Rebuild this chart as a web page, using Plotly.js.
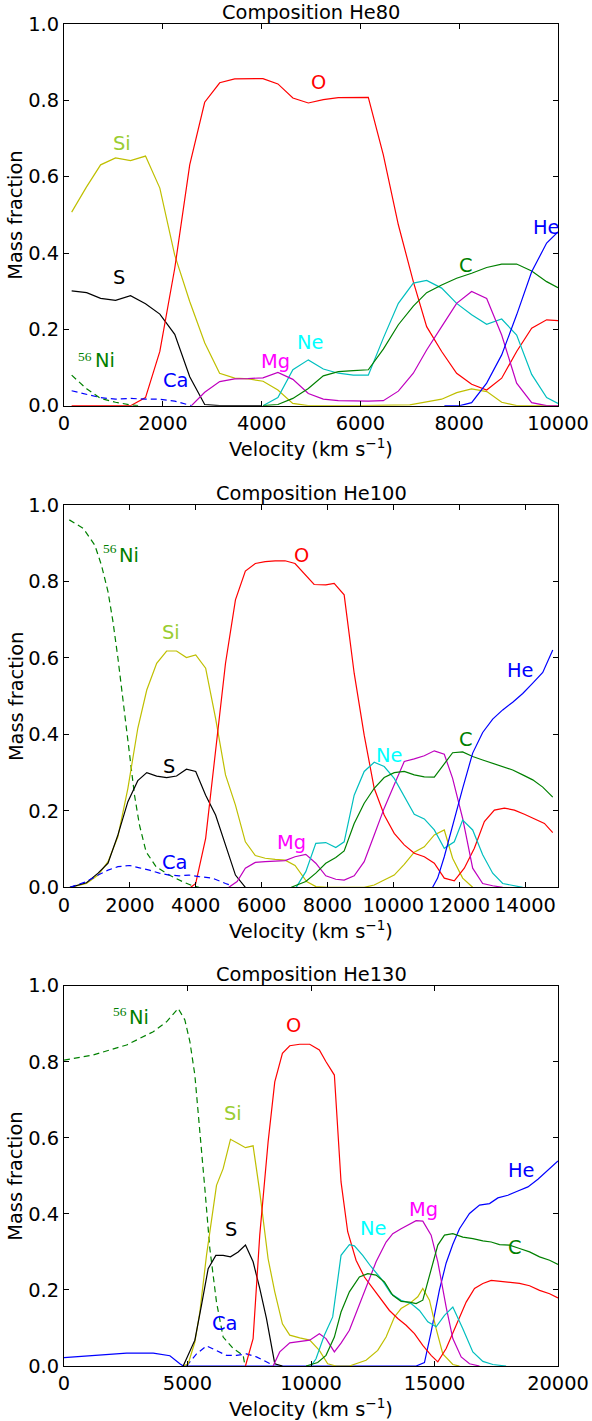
<!DOCTYPE html>
<html>
<head>
<meta charset="utf-8">
<script src="https://cdn.plot.ly/plotly-3.0.1.min.js"></script>
<style>
  html, body { margin: 0; padding: 0; background: #fff; }
  #chart { width: 592px; height: 1421px; }
</style>
</head>
<body>
<div id="chart"></div>
<script>
// ---------- Composition He80 ----------
const he80_Si_v = [155,450,741,1044,1347,1650,1940,2240,2545,2850,3150,3455,3740,4030,4330,4630,4940,6000,7000,7340,7645,7950,8250,8560,8860,9163,10000];
const he80_Si   = [0.507,0.572,0.631,0.649,0.642,0.654,0.570,0.395,0.273,0.164,0.085,0.072,0.070,0.064,0.041,0.006,0.0,0.0,0.002,0.009,0.017,0.034,0.044,0.037,0.009,0.0,0.0];
const he80_S_v  = [155,458,741,1044,1347,1650,1940,2242,2545,2848,3152,4000];
const he80_S    = [0.301,0.296,0.281,0.276,0.288,0.267,0.240,0.187,0.076,0.003,0,0];
const he80_O_v  = [155,1347,1650,1940,2242,2545,2848,3152,3455,3724,4027,4330,4633,4946,5249,5553,5857,6160,6464,6768,7071,7341,7645,7948,8252,8556,8860,9163,9467,9770,10000];
const he80_O    = [0,0,0.021,0.142,0.360,0.631,0.795,0.846,0.856,0.857,0.857,0.843,0.806,0.793,0.802,0.807,0.807,0.808,0.657,0.474,0.325,0.207,0.142,0.085,0.056,0.041,0.072,0.142,0.203,0.225,0.223];
const he80_Ne_v = [4027,4330,4633,4946,5249,5553,5857,6160,6464,6768,7071,7341,7645,7948,8252,8556,8860,9163,9467,9770,10000];
const he80_Ne   = [0,0.021,0.094,0.120,0.096,0.085,0.080,0.080,0.177,0.268,0.321,0.328,0.308,0.268,0.238,0.213,0.227,0.185,0.082,0.021,0.006];
const he80_Mg_v = [2580,2848,3152,3455,3724,4027,4330,4633,4946,5249,5553,5857,6160,6464,6768,7071,7341,7645,7948,8252,8556,8860,9163,9467,9770,10000];
const he80_Mg   = [0,0.035,0.063,0.070,0.071,0.073,0.087,0.069,0.032,0.017,0.013,0.012,0.012,0.013,0.038,0.085,0.146,0.207,0.268,0.299,0.281,0.185,0.059,0.008,0,0];
const he80_C_v  = [4027,4330,4633,4946,5249,5553,5857,6160,6464,6768,7071,7341,7645,7948,8252,8556,8860,9163,9467,9770,10000];
const he80_C    = [0,0.003,0.019,0.045,0.078,0.089,0.092,0.094,0.148,0.212,0.261,0.296,0.316,0.334,0.347,0.362,0.371,0.371,0.353,0.325,0.309];
const he80_He_v = [7700,8016,8252,8556,8860,9163,9467,9770,10000];
const he80_He   = [0,0,0.008,0.059,0.133,0.238,0.351,0.426,0.455];
const he80_Ca_v = [155,458,741,1044,1347,1650,1940,2242,2580];
const he80_Ca   = [0.039,0.030,0.021,0.017,0.019,0.017,0.017,0.012,0];
const he80_Ni_v = [155,458,741,1044,1347,1500];
const he80_Ni   = [0.080,0.044,0.019,0.009,0.002,0];

// ---------- Composition He100 ----------
const he100_Ni_v = [161,583,935,1136,1337,1487,1638,1839,2010,2141,2291,2492,2794,3196,3598,3900,4100];
const he100_Ni   = [0.961,0.939,0.895,0.843,0.773,0.695,0.599,0.459,0.329,0.241,0.163,0.093,0.054,0.032,0.015,0.004,0];
const he100_Si_v = [181,683,1035,1337,1638,1940,2241,2513,2814,3116,3417,3718,4000,4301,4603,4904,5206,5507,5809,6110,6412,6713,7015,7367,7650,8000,9115,9419,9723,10027,10331,10635,10940,11244,11547,11800,12105,12409];
const he100_Si   = [0,0.010,0.032,0.067,0.133,0.259,0.416,0.516,0.586,0.618,0.618,0.601,0.608,0.573,0.442,0.294,0.215,0.119,0.083,0.076,0.073,0.071,0.057,0.015,0.002,0,0,0.006,0.019,0.032,0.060,0.092,0.106,0.137,0.150,0.076,0.024,0];
const he100_S_v  = [181,683,1035,1337,1638,1940,2241,2513,2814,3116,3417,3718,4000,4301,4603,4904,5206,5507];
const he100_S    = [0,0.012,0.037,0.063,0.137,0.224,0.279,0.300,0.291,0.287,0.291,0.309,0.303,0.241,0.189,0.111,0.032,0];
const he100_O_v  = [3849,4000,4301,4603,4904,5206,5507,5809,6110,6412,6713,7015,7367,7595,7949,8203,8507,8811,9115,9419,9723,10027,10331,10635,10940,11244,11547,11851,12155,12460,12764,13068,13372,13676,13980,14284,14588,14841];
const he100_O    = [0,0.010,0.128,0.364,0.586,0.752,0.827,0.847,0.852,0.854,0.854,0.847,0.813,0.792,0.791,0.795,0.765,0.560,0.398,0.259,0.189,0.141,0.111,0.089,0.080,0.063,0.024,0.017,0.050,0.102,0.172,0.202,0.207,0.202,0.191,0.180,0.167,0.143];
const he100_Ca_v = [181,683,1035,1337,1638,1990,2291,2593,2894,3196,3500,3799,4100,4502,4904,5106];
const he100_Ca   = [0,0.015,0.032,0.045,0.054,0.057,0.051,0.045,0.037,0.032,0.030,0.032,0.028,0.024,0.010,0.004];
const he100_Mg_v = [5005,5256,5507,5809,6110,6412,6713,7015,7342,7646,7949,8253,8507,8811,9115,9419,9723,10027,10331,10635,10940,11244,11547,11800,12105,12409,12713,13017,13321];
const he100_Mg   = [0,0.015,0.050,0.065,0.067,0.069,0.070,0.080,0.086,0.063,0.030,0.021,0.019,0.030,0.067,0.137,0.207,0.268,0.329,0.336,0.344,0.357,0.348,0.285,0.180,0.050,0.010,0.004,0];
const he100_Ne_v = [7050,7342,7646,7949,8253,8507,8811,9115,9419,9723,10027,10331,10635,10940,11244,11547,11851,12105,12409,12713,13017,13321,13625,13929];
const he100_Ne   = [0,0.041,0.115,0.117,0.104,0.119,0.241,0.303,0.327,0.316,0.285,0.237,0.191,0.179,0.150,0.102,0.119,0.176,0.150,0.085,0.037,0.010,0.004,0];
const he100_C_v  = [6900,7342,7646,7949,8253,8507,8811,9115,9419,9723,10027,10331,10635,10940,11244,11547,11800,12105,12409,12713,13017,13321,13625,13929,14233,14537,14841];
const he100_C    = [0,0.015,0.037,0.063,0.078,0.095,0.167,0.220,0.259,0.287,0.300,0.303,0.294,0.289,0.288,0.322,0.352,0.354,0.342,0.333,0.325,0.316,0.307,0.294,0.281,0.262,0.236];
const he100_He_v = [11193,11345,11547,11800,12105,12409,12713,13017,13321,13625,13929,14233,14537,14841];
const he100_He   = [0,0.024,0.080,0.163,0.259,0.351,0.405,0.440,0.464,0.484,0.507,0.534,0.562,0.621];

// ---------- Composition He130 ----------
const he130_Ni_v = [0,1186,2534,3613,4152,4624,4893,5096,5298,5500,5702,5904,6174,6443,6848,7252,7320];
const he130_Ni   = [0.804,0.818,0.844,0.879,0.905,0.940,0.910,0.853,0.765,0.625,0.467,0.309,0.168,0.076,0.046,0.028,0.004];
const he130_Ca_v = [4960,5365,5769,6174,6578,6983,7387,7791,8196,8465];
const he130_Ca   = [0,0.032,0.053,0.041,0.028,0.028,0.032,0.024,0.011,0.002];
const he130_He_v = [0,1186,2534,3613,4287,4691,4826,14256,14593,14864,15200,15472,15742,16012,16417,16823,17228,17566,17971,18376,18782,19187,19525,20000];
const he130_He   = [0.022,0.028,0.034,0.034,0.027,0.006,0,0,0.009,0.090,0.200,0.271,0.320,0.361,0.401,0.423,0.427,0.442,0.449,0.460,0.471,0.491,0.511,0.539];
const he130_Si_v = [4826,5028,5298,5500,5769,6174,6443,6740,7050,7347,7656,7925,8263,8533,8843,9140,9544,9948,10338,10676,11013,11554,12229,12702,13040,13378,13648,13986,14323,14526,14796,15066,15336,15742,16012];
const he130_Si   = [0,0.006,0.063,0.142,0.291,0.475,0.519,0.596,0.585,0.574,0.579,0.458,0.282,0.195,0.111,0.081,0.074,0.068,0.041,0.006,0,0,0.015,0.041,0.076,0.129,0.151,0.164,0.182,0.204,0.173,0.098,0.032,0.004,0];
const he130_S_v  = [4826,5298,5567,5837,6147,6443,6740,7050,7347,7656,7925,8196,8533,8843];
const he130_S    = [0,0.068,0.160,0.256,0.291,0.291,0.287,0.300,0.318,0.274,0.204,0.125,0.006,0];
const he130_O_v  = [7347,7656,7925,8263,8533,8843,9140,9544,9948,10338,10608,10946,11216,11486,11824,12162,12499,12837,13175,13513,13851,14188,14526,14864,15134,15472,15877,16282,16620,16958,17295,17633,18038,18444,18849,19254,19660,20000];
const he130_O    = [0,0.072,0.344,0.589,0.747,0.822,0.842,0.846,0.846,0.831,0.800,0.765,0.484,0.353,0.278,0.234,0.205,0.177,0.146,0.125,0.107,0.085,0.054,0.028,0.011,0.046,0.107,0.168,0.204,0.217,0.225,0.223,0.221,0.217,0.211,0.199,0.190,0.179];
const he130_Mg_v = [8465,8735,9140,9544,9948,10338,10608,10946,11216,11554,11892,12229,12635,13040,13310,13648,13986,14256,14526,14864,15134,15472,15742,16080,16417,16823];
const he130_Mg   = [0,0.037,0.061,0.065,0.068,0.085,0.072,0.037,0.060,0.094,0.151,0.208,0.274,0.326,0.348,0.361,0.372,0.382,0.381,0.344,0.274,0.155,0.072,0.024,0.006,0];
const he130_Ne_v = [10000,10203,10540,10878,11216,11554,11756,12094,12432,12837,13243,13648,14053,14391,14729,15066,15404,15742,16147,16552,16958,17363,17900];
const he130_Ne   = [0,0.019,0.081,0.129,0.291,0.319,0.316,0.291,0.261,0.230,0.190,0.173,0.164,0.146,0.116,0.103,0.133,0.155,0.098,0.037,0.012,0.004,0];
const he130_C_v  = [9800,10270,10608,10946,11216,11554,11959,12297,12635,12972,13310,13648,13986,14256,14526,14864,15134,15404,15742,16147,16552,16958,17295,17633,18038,18444,18849,19254,19660,20000];
const he130_C    = [0,0.009,0.028,0.076,0.142,0.195,0.234,0.243,0.239,0.221,0.186,0.170,0.168,0.164,0.173,0.256,0.318,0.344,0.348,0.339,0.335,0.329,0.326,0.319,0.318,0.309,0.300,0.287,0.278,0.267];

const panelTitles = ['Composition He80', 'Composition He100', 'Composition He130'];
const xMax = [10000, 15000, 20000];
const xStep = [2000, 2000, 5000];

// line styles per species
const LINE = {
  Si: {color: '#bfbf00'}, S: {color: '#000000'}, O: {color: '#ff0000'},
  Ne: {color: '#00bfbf'}, Mg: {color: '#bf00bf'}, C: {color: '#008000'},
  He: {color: '#0000ff'}, Ca: {color: '#0000ff', dash: '6px,4px'},
  Ni: {color: '#008000', dash: '6px,4px'}
};
// label colours per species
const LABEL = {
  Si: '#9acd32', S: '#000000', O: '#ff0000', Ne: '#00ffff', Mg: '#ff00ff',
  C: '#008000', He: '#0000ff', Ca: '#0000ff', Ni: '#008000'
};

const panels = [
  {ax: '', series: [['Si',he80_Si_v,he80_Si],['S',he80_S_v,he80_S],['O',he80_O_v,he80_O],['Ne',he80_Ne_v,he80_Ne],['Mg',he80_Mg_v,he80_Mg],['C',he80_C_v,he80_C],['He',he80_He_v,he80_He],['Ca',he80_Ca_v,he80_Ca],['Ni',he80_Ni_v,he80_Ni]],
   labels: {Si:[1174,0.686], S:[1123,0.335], O:[5148,0.847], He:[9771,0.466], C:[8144,0.367], Ne:[4970,0.166], Mg:[4285,0.115], Ca:[2247,0.066], Ni:[820,0.1185]},
   iso: [425,0.130]},
  {ax: '2', series: [['Ni',he100_Ni_v,he100_Ni],['Si',he100_Si_v,he100_Si],['S',he100_S_v,he100_S],['O',he100_O_v,he100_O],['Ca',he100_Ca_v,he100_Ca],['Mg',he100_Mg_v,he100_Mg],['Ne',he100_Ne_v,he100_Ne],['C',he100_C_v,he100_C],['He',he100_He_v,he100_He]],
   labels: {Si:[3253,0.667], S:[3177,0.315], O:[7205,0.867], He:[13873,0.566], C:[12195,0.386], Ne:[9882,0.346], Mg:[6902,0.118], Ca:[3365,0.0645], Ni:[1976,0.867]},
   iso: [1394,0.885]},
  {ax: '3', series: [['Ni',he130_Ni_v,he130_Ni],['Ca',he130_Ca_v,he130_Ca],['He',he130_He_v,he130_He],['Si',he130_Si_v,he130_Si],['S',he130_S_v,he130_S],['O',he130_O_v,he130_O],['Mg',he130_Mg_v,he130_Mg],['Ne',he130_Ne_v,he130_Ne],['C',he130_C_v,he130_C]],
   labels: {Si:[6848,0.663], S:[6747,0.360], O:[9274,0.895], He:[18511,0.513], C:[18261,0.311], Ne:[12513,0.362], Mg:[14560,0.412], Ca:[6491,0.111], Ni:[3040,0.917]},
   iso: [2278,0.933]}
];

const FONT = 'DejaVu Sans, sans-serif';
const FS = 19.4;
const domains = [[0.7156, 1.0], [0.3567, 0.6416], [0.0, 0.2834]];

const traces = [];
const annotations = [];
const layout = {
  width: 592, height: 1421,
  margin: {l: 64, r: 34, t: 24, b: 55},
  paper_bgcolor: '#ffffff', plot_bgcolor: '#ffffff',
  showlegend: false,
  font: {family: FONT, size: FS, color: '#000'},
  annotations: annotations
};

panels.forEach((p, i) => {
  const xa = 'x' + p.ax, ya = 'y' + p.ax;
  p.series.forEach(([name, v, m]) => {
    traces.push({
      type: 'scatter', mode: 'lines', x: v, y: m, xaxis: xa, yaxis: ya,
      line: {color: LINE[name].color, width: 1.2, dash: LINE[name].dash || 'solid'},
      hoverinfo: 'skip'
    });
  });
  const common = {
    ticks: 'inside', ticklen: 5, tickwidth: 1, tickcolor: '#000',
    showline: true, linecolor: '#000', linewidth: 1, mirror: 'ticks',
    showgrid: false, zeroline: false,
    tickfont: {family: FONT, size: FS, color: '#000'}
  };
  layout['xaxis' + p.ax] = Object.assign({}, common, {
    anchor: ya, domain: [0, 1], range: [0, xMax[i]],
    tick0: 0, dtick: xStep[i], tickformat: 'd',
    title: {text: 'Velocity (km s<sup>\u22121</sup>)', font: {family: FONT, size: FS, color: '#000'}, standoff: 0}
  });
  layout['yaxis' + p.ax] = Object.assign({}, common, {
    anchor: xa, domain: domains[i], range: [0, 1],
    tick0: 0, dtick: 0.2, tickformat: '.1f'
  });
  // vertical axis caption, placed just left of the tick labels
  annotations.push({
    xref: 'paper', yref: ya + ' domain', x: -0.0972, y: 0.5,
    xanchor: 'center', yanchor: 'middle', textangle: -90, showarrow: false,
    text: 'Mass fraction', font: {family: FONT, size: FS, color: '#000'}
  });
  annotations.push({
    xref: xa + ' domain', yref: ya + ' domain', x: 0.5, y: 1,
    xanchor: 'center', yanchor: 'bottom', yshift: -2, showarrow: false,
    text: panelTitles[i], font: {family: FONT, size: FS, color: '#000'}
  });
  Object.keys(p.labels).forEach(k => {
    const [lx, ly] = p.labels[k];
    annotations.push({
      xref: xa, yref: ya, x: lx, y: ly, xanchor: 'center', yanchor: 'middle',
      showarrow: false, text: k, font: {family: FONT, size: FS, color: LABEL[k]}
    });
  });
  annotations.push({
    xref: xa, yref: ya, x: p.iso[0], y: p.iso[1], xanchor: 'center', yanchor: 'middle',
    showarrow: false, text: '56', font: {family: 'Liberation Serif, serif', size: 13.5, color: LABEL.Ni}
  });
});

Plotly.newPlot('chart', traces, layout, {staticPlot: true, displayModeBar: false});
</script>
</body>
</html>
